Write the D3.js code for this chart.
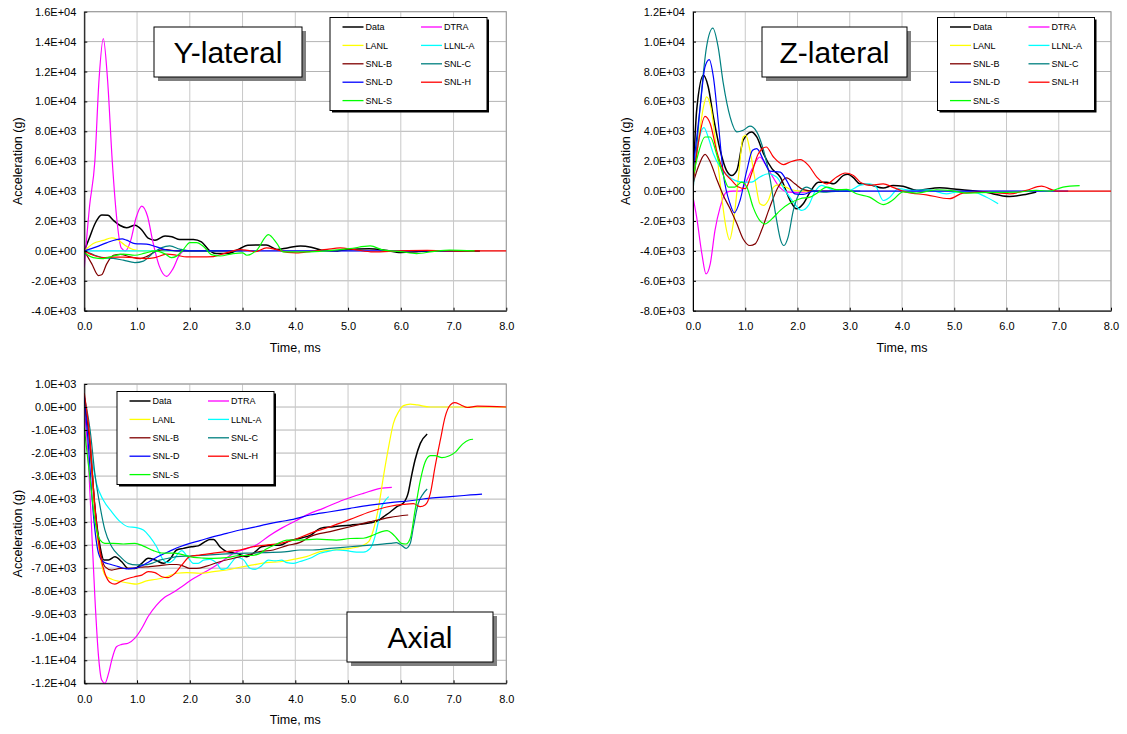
<!DOCTYPE html>
<html>
<head>
<meta charset="utf-8">
<script src="https://cdn.jsdelivr.net/npm/d3@7"></script>
<style>
  body { margin: 0; background: #fff; }
  text { font-family: "Liberation Sans", Arial, sans-serif; }
</style>
</head>
<body>
<div id="chart"></div>
<script>
// series names, shared by the three charts
var seriesNames = ["Data", "DTRA", "LANL", "LLNL-A", "SNL-B", "SNL-C", "SNL-D", "SNL-H", "SNL-S"];

// tick labels
var timeTicks = [0, 1, 2, 3, 4, 5, 6, 7, 8];
var yLatTicks = [-4000, -2000, 0, 2000, 4000, 6000, 8000, 10000, 12000, 14000, 16000];
var zLatTicks = [-8000, -6000, -4000, -2000, 0, 2000, 4000, 6000, 8000, 10000, 12000];
var axialTicks = [-12000, -11000, -10000, -9000, -8000, -7000, -6000, -5000, -4000, -3000, -2000, -1000, 0, 1000];

// ---- Y-lateral : [time ms, acceleration g]
var yLatData = [[0,0],[0.1,900],[0.2,1800],[0.33,2400],[0.45,2380],[0.55,2050],[0.68,1700],[0.8,1550],[0.96,1720],[1.09,1400],[1.21,850],[1.34,720],[1.53,1000],[1.66,950],[1.81,760],[2.07,760],[2.22,600],[2.38,0],[2.5,-180],[2.7,-180],[2.95,150],[3.1,380],[3.45,400],[3.65,100],[3.85,200],[4.1,330],[4.3,250],[4.5,50],[4.8,0],[5.0,100],[5.4,150],[5.7,50],[6.0,-100],[6.3,-50],[6.6,0],[7.0,0],[7.5,0]];
var yLatDTRA = [[0,-1100],[0.1,3000],[0.2,6000],[0.28,11500],[0.36,14200],[0.44,11500],[0.53,6000],[0.62,2000],[0.7,200],[0.78,0],[0.88,700],[0.98,2200],[1.09,3000],[1.2,2300],[1.3,600],[1.42,-1000],[1.56,-1700],[1.68,-1200],[1.8,-300],[1.9,0],[2.2,0]];
var yLatLANL = [[0,0],[0.17,500],[0.36,700],[0.52,870],[0.62,780],[0.77,380],[0.93,90],[1.12,0],[1.5,0],[2.0,0],[2.5,0]];
var yLatLLNLA = [[0,0],[0.5,0],[1.0,0],[1.5,0],[2.0,0],[2.5,0]];
var yLatSNLB = [[0,0],[0.14,-850],[0.27,-1650],[0.33,-1600],[0.42,-900],[0.55,-300],[0.68,-230],[0.87,-400],[1.06,-510],[1.18,-380],[1.37,0],[1.56,90],[1.75,0],[2.2,0],[2.8,0]];
var yLatSNLC = [[0,0],[0.17,-250],[0.36,-450],[0.55,-500],[0.74,-620],[0.96,-780],[1.12,-680],[1.31,-130],[1.47,220],[1.62,330],[1.81,120],[2.0,0],[2.5,0],[3.0,0]];
var yLatSNLD = [[0,0],[0.23,270],[0.42,540],[0.61,760],[0.72,800],[0.8,720],[0.96,490],[1.18,450],[1.37,270],[1.56,60],[1.81,0],[3,0],[4,0],[5,0],[6,0],[7,0]];
var yLatSNLH = [[0,0],[0.17,-290],[0.36,-450],[0.55,-420],[0.74,-420],[0.96,-450],[1.15,-510],[1.34,-450],[1.56,-220],[1.75,-290],[1.94,-400],[2.19,-400],[2.45,-380],[2.64,-180],[2.82,0],[2.95,90],[3.1,30],[3.25,-50],[3.45,200],[3.65,80],[3.85,-100],[4.02,-130],[4.3,-30],[4.6,100],[4.85,200],[5.1,100],[5.48,-70],[5.98,0],[6.5,30],[7.0,0],[8.0,0]];
var yLatSNLS = [[0,-100],[0.17,-450],[0.36,-510],[0.55,-340],[0.74,-220],[0.96,-290],[1.15,-150],[1.34,0],[1.53,-200],[1.65,-450],[1.75,-350],[1.88,100],[2.0,560],[2.13,560],[2.26,300],[2.41,-250],[2.57,-340],[2.82,-180],[3.0,-130],[3.08,-290],[3.27,50],[3.49,1090],[3.65,500],[3.77,-70],[4.2,-70],[4.6,0],[5.03,150],[5.42,330],[5.67,50],[6.0,-50],[6.3,-180],[6.6,-50],[6.93,50],[7.4,0]];

// ---- Z-lateral
var zLatData = [[0,500],[0.07,5400],[0.2,7750],[0.29,7000],[0.39,4960],[0.52,2730],[0.64,1390],[0.74,1050],[0.84,1390],[0.96,3400],[1.12,3960],[1.22,3620],[1.35,2500],[1.51,1500],[1.67,940],[1.86,-630],[1.98,-1180],[2.11,-850],[2.24,-70],[2.4,600],[2.56,600],[2.69,490],[2.88,1050],[2.96,1120],[3.07,900],[3.19,490],[3.38,430],[3.64,200],[3.83,380],[4.02,330],[4.28,50],[4.72,220],[5.04,120],[5.55,-50],[6.06,-360],[6.32,-250],[6.57,-60]];
var zLatDTRA = [[0,-400],[0.07,-1740],[0.17,-4200],[0.25,-5540],[0.33,-4870],[0.42,-2640],[0.52,-1070],[0.64,-70],[0.77,0],[0.9,0],[1.03,720],[1.15,1610],[1.28,2280],[1.38,1830],[1.51,1050],[1.63,380],[1.79,-50],[1.99,-100],[2.18,-50],[2.5,0],[3.0,0]];
var zLatLANL = [[0,500],[0.1,3180],[0.2,5630],[0.26,6300],[0.34,5630],[0.45,2730],[0.55,-400],[0.63,-2410],[0.7,-3260],[0.77,-2190],[0.87,940],[0.96,3620],[1.01,3730],[1.09,2730],[1.19,720],[1.28,-850],[1.35,-960],[1.44,-630],[1.54,270],[1.63,420],[1.73,350],[1.86,120],[2.05,0],[2.5,0],[3.0,0]];
var zLatLLNLA = [[0,500],[0.1,3180],[0.21,4250],[0.29,3620],[0.39,2500],[0.52,1610],[0.64,1120],[0.8,720],[0.96,600],[1.12,600],[1.28,940],[1.44,1160],[1.6,940],[1.76,45],[1.92,-740],[2.08,-1290],[2.21,-960],[2.33,-70],[2.46,380],[2.62,150],[2.81,0],[3.0,50],[3.19,380],[3.38,490],[3.5,300],[3.64,-630],[3.77,-400],[3.93,160],[4.2,50],[4.5,80],[4.85,-180],[5.04,-70],[5.36,-70],[5.61,-400],[5.84,-850]];
var zLatSNLB = [[0,500],[0.1,1610],[0.23,2460],[0.33,1950],[0.45,830],[0.58,-290],[0.71,-1180],[0.84,-2190],[0.96,-3200],[1.09,-3640],[1.19,-3530],[1.31,-2640],[1.47,-1070],[1.63,270],[1.79,890],[1.95,490],[2.11,100],[2.3,0],[2.8,0]];
var zLatSNLC = [[0,0],[0.13,5400],[0.26,9670],[0.38,10900],[0.48,9670],[0.58,7200],[0.71,4960],[0.84,3960],[0.96,4070],[1.09,4340],[1.22,3960],[1.35,2730],[1.47,940],[1.59,-1740],[1.68,-3310],[1.74,-3640],[1.82,-3080],[1.92,-1290],[2.05,-70],[2.18,270],[2.3,50],[2.49,-70],[2.8,0],[3.2,0]];
var zLatSNLD = [[0,1390],[0.13,5400],[0.23,8320],[0.31,8800],[0.39,7640],[0.48,4740],[0.58,1160],[0.71,-850],[0.79,-1450],[0.9,-630],[1.03,1390],[1.14,2730],[1.22,2840],[1.35,2060],[1.47,1340],[1.67,1270],[1.79,720],[1.95,-180],[2.11,-220],[2.3,0],[3,0],[4,0],[5,0],[6,0],[7.18,0]];
var zLatSNLH = [[0,500],[0.1,3180],[0.23,5000],[0.33,4510],[0.45,2730],[0.58,1390],[0.74,720],[0.87,270],[1.0,160],[1.12,1160],[1.25,2500],[1.4,2950],[1.54,2280],[1.73,1770],[1.86,1950],[2.05,2100],[2.21,1720],[2.37,940],[2.56,490],[2.75,940],[2.91,1210],[3.07,1050],[3.2,600],[3.38,380],[3.64,490],[3.83,250],[4.08,-70],[4.47,-250],[4.91,-510],[5.17,-130],[5.55,-70],[6.06,-180],[6.38,50],[6.67,330],[6.96,0],[7.5,0],[8.0,0]];
var zLatSNLS = [[0,940],[0.1,2500],[0.23,3620],[0.33,3620],[0.45,2500],[0.58,1050],[0.68,270],[0.8,270],[0.93,600],[1.03,270],[1.15,-1070],[1.28,-1970],[1.38,-2190],[1.51,-1860],[1.67,-1290],[1.86,-800],[2.05,-510],[2.24,-400],[2.4,-70],[2.56,270],[2.75,100],[2.94,110],[3.13,-180],[3.38,-400],[3.64,-900],[3.83,-580],[4.02,-50],[4.28,-130],[4.66,90],[4.91,50],[5.23,-130],[5.68,-90],[6.19,-70],[6.57,50],[6.83,0],[7.08,270],[7.4,360]];

// ---- Axial
var axialData = [[0,300],[0.11,-1720],[0.2,-4330],[0.3,-6070],[0.37,-6640],[0.46,-6640],[0.58,-6500],[0.71,-6720],[0.83,-7010],[0.96,-7010],[1.09,-6790],[1.21,-6570],[1.34,-6640],[1.5,-6790],[1.62,-6620],[1.75,-6210],[1.88,-6140],[2.03,-6070],[2.16,-6030],[2.29,-5850],[2.38,-5750],[2.45,-5750],[2.57,-6070],[2.7,-6280],[2.89,-6350],[3.08,-6500],[3.2,-6360],[3.36,-6070],[3.55,-6000],[3.71,-6000],[3.9,-5800],[4.09,-5700],[4.3,-5550],[4.47,-5270],[4.72,-5200],[5.04,-5130],[5.42,-5030],[5.58,-4920],[5.67,-4770],[5.8,-4560],[5.92,-4340],[6.05,-4170],[6.14,-3730],[6.2,-3030],[6.27,-2300],[6.37,-1580],[6.5,-1170]];
var axialDTRA = [[0,0],[0.08,-2450],[0.14,-5340],[0.2,-8240],[0.27,-10840],[0.33,-11860],[0.39,-12000],[0.46,-11570],[0.52,-10990],[0.61,-10410],[0.71,-10310],[0.83,-10260],[0.96,-10040],[1.09,-9610],[1.21,-9100],[1.37,-8600],[1.53,-8250],[1.69,-8050],[1.88,-7750],[2.07,-7450],[2.26,-7200],[2.45,-6950],[2.64,-6650],[2.83,-6350],[3.08,-6150],[3.27,-5980],[3.5,-5600],[3.75,-5250],[4.0,-4950],[4.25,-4650],[4.53,-4400],[4.91,-4040],[5.29,-3750],[5.61,-3530],[5.83,-3490]];
var axialLANL = [[0,200],[0.11,-1600],[0.2,-4620],[0.3,-6500],[0.39,-7300],[0.52,-7480],[0.68,-7580],[0.87,-7660],[0.99,-7690],[1.18,-7550],[1.37,-7480],[1.56,-7370],[1.75,-7220],[1.94,-7190],[2.19,-7220],[2.45,-7150],[2.7,-7080],[2.95,-6960],[3.2,-6860],[3.45,-6760],[3.71,-6720],[3.96,-6620],[4.21,-6500],[4.47,-6280],[4.72,-6210],[5.04,-6140],[5.26,-6020],[5.39,-5850],[5.48,-5340],[5.58,-4330],[5.67,-3030],[5.77,-1720],[5.86,-710],[5.96,-200],[6.05,60],[6.18,130],[6.31,90],[6.56,0],[7.0,0],[7.5,0],[8.0,0]];
var axialLLNLA = [[0,300],[0.11,-1700],[0.23,-3310],[0.36,-4040],[0.52,-4550],[0.68,-4980],[0.83,-5200],[0.99,-5240],[1.12,-5340],[1.24,-5630],[1.37,-6070],[1.5,-6650],[1.59,-6760],[1.69,-6650],[1.78,-6350],[1.85,-6240],[1.94,-6450],[2.07,-6790],[2.16,-6790],[2.26,-6650],[2.38,-6620],[2.51,-6790],[2.6,-7050],[2.7,-7000],[2.79,-6760],[2.89,-6520],[3.02,-6640],[3.14,-7000],[3.24,-7050],[3.36,-6890],[3.49,-6650],[3.62,-6680],[3.74,-6650],[3.84,-6760],[3.96,-6790],[4.09,-6710],[4.28,-6570],[4.47,-6350],[4.6,-6280],[4.78,-6210],[4.97,-6240],[5.16,-6300],[5.29,-6300],[5.42,-6140],[5.51,-5630],[5.58,-4920],[5.64,-4330],[5.71,-4040],[5.77,-3890]];
var axialSNLB = [[0,300],[0.11,-1700],[0.2,-4330],[0.3,-6210],[0.39,-6930],[0.52,-7080],[0.68,-7010],[0.87,-7010],[1.06,-6960],[1.24,-6930],[1.43,-6890],[1.62,-6840],[1.75,-6840],[1.88,-6910],[2.0,-7010],[2.13,-7010],[2.32,-6910],[2.57,-6720],[2.83,-6570],[3.08,-6430],[3.33,-6280],[3.58,-6210],[3.84,-6020],[4.09,-5880],[4.28,-5630],[4.66,-5410],[5.04,-5200],[5.42,-4980],[5.8,-4790],[6.14,-4690]];
var axialSNLC = [[0,450],[0.11,-1000],[0.2,-2880],[0.3,-4330],[0.39,-5340],[0.52,-6070],[0.68,-6500],[0.83,-6790],[0.99,-6860],[1.12,-6860],[1.28,-6790],[1.43,-6650],[1.59,-6570],[1.75,-6500],[2.0,-6470],[2.32,-6430],[2.7,-6380],[3.08,-6350],[3.45,-6320],[3.84,-6280],[4.09,-6210],[4.28,-6210],[4.66,-6140],[5.04,-6070],[5.42,-6000],[5.8,-5920],[5.92,-5890],[6.01,-6000],[6.1,-6140],[6.18,-5920],[6.24,-5200],[6.33,-4190],[6.43,-3750],[6.5,-3560]];
var axialSNLD = [[0,480],[0.08,-1720],[0.17,-4620],[0.27,-6350],[0.36,-6720],[0.49,-6830],[0.64,-6930],[0.8,-7030],[0.96,-7000],[1.12,-6860],[1.28,-6650],[1.43,-6460],[1.62,-6260],[1.81,-6070],[2.0,-5920],[2.19,-5800],[2.45,-5630],[2.7,-5490],[2.95,-5340],[3.2,-5230],[3.45,-5100],[3.71,-4980],[3.96,-4880],[4.28,-4690],[4.66,-4550],[5.04,-4400],[5.42,-4260],[5.8,-4150],[6.18,-4070],[6.56,-3960],[6.94,-3890],[7.32,-3820],[7.54,-3780]];
var axialSNLH = [[0,600],[0.11,-1430],[0.2,-4330],[0.3,-6350],[0.39,-7220],[0.49,-7620],[0.58,-7690],[0.71,-7550],[0.83,-7450],[0.96,-7370],[1.09,-7300],[1.21,-7150],[1.34,-7190],[1.47,-7370],[1.59,-7410],[1.72,-7220],[1.85,-6860],[2.0,-6500],[2.19,-6430],[2.45,-6350],[2.7,-6280],[2.95,-6210],[3.2,-6070],[3.45,-6000],[3.71,-5920],[3.96,-5780],[4.28,-5490],[4.66,-5200],[5.04,-4880],[5.42,-4550],[5.8,-4310],[6.05,-4230],[6.24,-4200],[6.37,-4330],[6.46,-4260],[6.56,-3750],[6.65,-2590],[6.75,-1430],[6.84,-430],[6.94,90],[7.02,190],[7.14,90],[7.26,-20],[7.45,40],[8.0,0]];
var axialSNLS = [[0,-900],[0.11,-3170],[0.2,-4910],[0.3,-5780],[0.39,-5920],[0.55,-5920],[0.74,-5950],[0.96,-5920],[1.12,-6040],[1.31,-6240],[1.5,-6350],[1.69,-6350],[1.88,-6420],[2.07,-6530],[2.26,-6560],[2.45,-6570],[2.7,-6540],[2.95,-6450],[3.14,-6450],[3.3,-6390],[3.45,-6170],[3.65,-5950],[3.84,-5780],[4.09,-5780],[4.41,-5740],[4.78,-5780],[5.04,-5710],[5.29,-5700],[5.48,-5560],[5.64,-5410],[5.74,-5370],[5.83,-5480],[5.92,-5700],[6.01,-5920],[6.1,-5950],[6.18,-5700],[6.27,-4490],[6.37,-3190],[6.46,-2400],[6.56,-2110],[6.65,-2110],[6.78,-2200],[6.91,-2130],[7.04,-1950],[7.17,-1610],[7.29,-1430],[7.37,-1400]];

var colors = {
  "Data": "#000000", "DTRA": "#ff00ff", "LANL": "#ffff00", "LLNL-A": "#00ffff",
  "SNL-B": "#800000", "SNL-C": "#008080", "SNL-D": "#0000ff", "SNL-H": "#ff0000", "SNL-S": "#00ff00"
};

var svg = d3.select("#chart").append("svg")
  .attr("width", 1127)
  .attr("height", 734)
  .style("background", "#fff");

// 1.6E+04 style labels
function sciFmt(v) {
  if (v === 0) return "0.0E+00";
  var e = Math.floor(Math.log10(Math.abs(v)));
  var m = v / Math.pow(10, e);
  return m.toFixed(1) + "E" + (e < 0 ? "-" : "+") + String(Math.abs(e)).padStart(2, "0");
}

var clipId = 0;
function drawChart(opt) {
  var x = d3.scaleLinear().domain([0, 8]).range([opt.left, opt.left + opt.w]);
  var y = d3.scaleLinear()
    .domain([opt.ticks[0], opt.ticks[opt.ticks.length - 1]])
    .range([opt.top + opt.h, opt.top]);
  var g = svg.append("g");

  // gridlines
  g.selectAll(".hgrid").data(opt.ticks).enter().append("line")
    .attr("x1", opt.left).attr("x2", opt.left + opt.w)
    .attr("y1", function(d) { return y(d); }).attr("y2", function(d) { return y(d); })
    .attr("stroke", "#b4b4b4").attr("stroke-width", 1);
  g.selectAll(".vgrid").data(timeTicks).enter().append("line")
    .attr("y1", opt.top).attr("y2", opt.top + opt.h)
    .attr("x1", function(d) { return x(d); }).attr("x2", function(d) { return x(d); })
    .attr("stroke", "#c8c8c8").attr("stroke-width", 1);
  g.append("rect")
    .attr("x", opt.left).attr("y", opt.top).attr("width", opt.w).attr("height", opt.h)
    .attr("fill", "none").attr("stroke", "#999").attr("stroke-width", 1);

  // lines
  clipId++;
  svg.append("clipPath").attr("id", "clip" + clipId).append("rect")
    .attr("x", opt.left).attr("y", opt.top - 1).attr("width", opt.w).attr("height", opt.h + 2);
  var line = d3.line()
    .x(function(d) { return x(d[0]); })
    .y(function(d) { return y(d[1]); })
    .curve(d3.curveMonotoneX);
  g.append("g").attr("clip-path", "url(#clip" + clipId + ")")
    .selectAll("path").data(opt.series).enter().append("path")
    .attr("d", function(d) { return line(d.values); })
    .attr("fill", "none")
    .attr("stroke", function(d) { return colors[d.name]; })
    .attr("stroke-width", function(d) { return d.name === "Data" ? 1.5 : 1.2; })
    .attr("stroke-linejoin", "round");

  // axes
  var yAxis = g.append("g")
    .attr("transform", "translate(" + opt.left + ",0)")
    .call(d3.axisLeft(y).tickValues(opt.ticks).tickFormat(sciFmt)
      .tickSizeInner(-3).tickSizeOuter(0).tickPadding(8));
  var xAxis = g.append("g")
    .attr("transform", "translate(0," + (opt.top + opt.h) + ")")
    .call(d3.axisBottom(x).tickValues(timeTicks).tickFormat(function(d) { return d.toFixed(1); })
      .tickSizeInner(-3).tickSizeOuter(0).tickPadding(12));
  [yAxis, xAxis].forEach(function(a) {
    a.selectAll("text").attr("font-size", 11).attr("fill", "#000")
      .attr("font-family", "Liberation Sans, Arial, sans-serif");
    a.selectAll("line").attr("stroke", "#000");
    a.select(".domain").attr("stroke", "#000");
  });

  // axis titles
  g.append("text")
    .attr("x", opt.left + opt.w / 2).attr("y", opt.top + opt.h + 41)
    .attr("text-anchor", "middle").attr("font-size", 12.5)
    .text("Time, ms");
  g.append("text")
    .attr("transform", "translate(" + (opt.left - 67) + "," + (opt.top + opt.h / 2) + ") rotate(-90)")
    .attr("text-anchor", "middle").attr("dy", "0.35em").attr("font-size", 12.5)
    .text("Acceleration (g)");

  // title box with shadow
  var tb = opt.titleBox;
  g.append("rect").attr("x", tb.x + 4).attr("y", tb.y + 4).attr("width", tb.w).attr("height", 50)
    .attr("fill", "#808080");
  g.append("rect").attr("x", tb.x).attr("y", tb.y).attr("width", tb.w).attr("height", 50)
    .attr("fill", "#fff").attr("stroke", "#000").attr("stroke-width", 1);
  g.append("text").attr("x", tb.x + tb.w / 2).attr("y", tb.y + 36)
    .attr("text-anchor", "middle").attr("font-size", 30)
    .text(opt.title);

  // legend
  var lg = opt.legend;
  g.append("rect").attr("x", lg.x + 2).attr("y", lg.y + 2).attr("width", 157).attr("height", 93)
    .attr("fill", "#000");
  g.append("rect").attr("x", lg.x).attr("y", lg.y).attr("width", 157).attr("height", 93)
    .attr("fill", "#fff").attr("stroke", "#000").attr("stroke-width", 1);
  var items = g.selectAll(".leg").data(opt.series).enter().append("g")
    .attr("transform", function(d, i) {
      return "translate(" + (lg.x + (i % 2) * 78.5) + "," + (lg.y + 9.5 + Math.floor(i / 2) * 18.4) + ")";
    });
  items.append("line").attr("x1", 12.5).attr("x2", 33.5).attr("y1", 0).attr("y2", 0)
    .attr("stroke", function(d) { return colors[d.name]; })
    .attr("stroke-width", function(d) { return d.name === "Data" ? 1.5 : 1.3; });
  items.append("text").attr("x", 35.5).attr("dy", "0.35em").attr("font-size", 9)
    .text(function(d) { return d.name; });
}

function bundle(list) {
  return seriesNames.map(function(n, i) { return {name: n, values: list[i]}; });
}

drawChart({
  left: 84.3, top: 11.7, w: 422, h: 299, ticks: yLatTicks, title: "Y-lateral",
  titleBox: {x: 154, y: 27, w: 148}, legend: {x: 330, y: 17.5},
  series: bundle([yLatData, yLatDTRA, yLatLANL, yLatLLNLA, yLatSNLB, yLatSNLC, yLatSNLD, yLatSNLH, yLatSNLS])
});
drawChart({
  left: 693, top: 11.7, w: 418, h: 299, ticks: zLatTicks, title: "Z-lateral",
  titleBox: {x: 762, y: 27, w: 145}, legend: {x: 937.5, y: 17.5},
  series: bundle([zLatData, zLatDTRA, zLatLANL, zLatLLNLA, zLatSNLB, zLatSNLC, zLatSNLD, zLatSNLH, zLatSNLS])
});
drawChart({
  left: 84.3, top: 384, w: 422, h: 299.3, ticks: axialTicks, title: "Axial",
  titleBox: {x: 347, y: 612, w: 146}, legend: {x: 117, y: 391.5},
  series: bundle([axialData, axialDTRA, axialLANL, axialLLNLA, axialSNLB, axialSNLC, axialSNLD, axialSNLH, axialSNLS])
});
</script>
</body>
</html>
